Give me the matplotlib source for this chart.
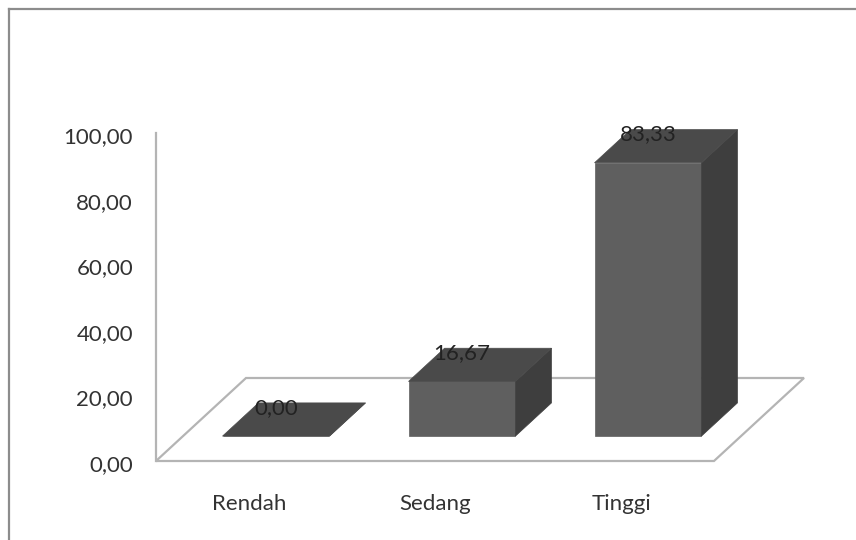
import matplotlib
matplotlib.use('Agg')
import matplotlib.pyplot as plt
from matplotlib.patches import Polygon

categories = ['Rendah', 'Sedang', 'Tinggi']
values = [0.00, 16.67, 83.33]
value_labels = ['0,00', '16,67', '83,33']
y_ticks = [0, 20, 40, 60, 80, 100]
y_tick_labels = ['0,00', '20,00', '40,00', '60,00', '80,00', '100,00']

W, H = 856, 540
plt.rcParams['font.family'] = ['Lato', 'DejaVu Sans']

fig = plt.figure(figsize=(W / 100, H / 100), dpi=100)
ax = fig.add_axes([156 / W, 1 - 461 / H, 558 / W, 328 / H])
ax.set_xlim(-0.5, 2.5)
ax.set_ylim(0, 100)
ax.axis('off')

# oblique projection: depth 0 is the front edge of the floor, 1 the back edge
DX = 90 / 186
DY = 83 / 3.28
BAR_W = 0.575
FRONT, BACK = 0.3, 0.7


def pt(x, y, depth):
    return (x + depth * DX, y + depth * DY)


def face(points, color, z):
    ax.add_patch(Polygon(points, closed=True, facecolor=color, edgecolor=color,
                         linewidth=0.5, zorder=z, clip_on=False))


floor_color = '#b4b4b4'
floor = [pt(-0.5, 0, 0), pt(2.5, 0, 0), pt(2.5, 0, 1), pt(-0.5, 0, 1)]
ax.add_patch(Polygon(floor, closed=True, fill=False, edgecolor=floor_color,
                     linewidth=1.6, zorder=1, clip_on=False))
ax.plot([-0.5, -0.5], [0, 100], color=floor_color, lw=1.6, zorder=1, clip_on=False)

for i, v in enumerate(values):
    x0, x1 = i - BAR_W / 2, i + BAR_W / 2
    # front, side and top faces of the column
    face([pt(x0, 0, FRONT), pt(x1, 0, FRONT), pt(x1, v, FRONT), pt(x0, v, FRONT)], '#5f5f5f', 3)
    face([pt(x1, 0, FRONT), pt(x1, 0, BACK), pt(x1, v, BACK), pt(x1, v, FRONT)], '#3e3e3e', 3)
    face([pt(x0, v, FRONT), pt(x1, v, FRONT), pt(x1, v, BACK), pt(x0, v, BACK)], '#4a4a4a', 3)
    lx, ly = pt(i, v, FRONT)
    ax.annotate(value_labels[i], (lx, ly), xytext=(0, 28.5 * 0.72), textcoords='offset points',
                ha='center', va='center', fontsize=16, color='#222222', zorder=5)

for t, lab in zip(y_ticks, y_tick_labels):
    ax.annotate(lab, (-0.5, t), xytext=(-23 * 0.72, -4 * 0.72), textcoords='offset points',
                ha='right', va='center', fontsize=16, color='#333333')

for i, lab in enumerate(categories):
    ax.annotate(lab, (i, 0), xytext=(0, -42.5 * 0.72), textcoords='offset points',
                ha='center', va='center', fontsize=16, color='#333333')

# chart area outline: only the top and left edges fall inside the frame
line_kw = dict(color='#8c8c8c', linewidth=1.6, transform=fig.transFigure)
fig.add_artist(plt.Line2D([9 / W, 9 / W], [0, 1 - 9 / H], **line_kw))
fig.add_artist(plt.Line2D([9 / W, 1], [1 - 9 / H, 1 - 9 / H], **line_kw))

fig.savefig('out.png', dpi=100, facecolor='white')
